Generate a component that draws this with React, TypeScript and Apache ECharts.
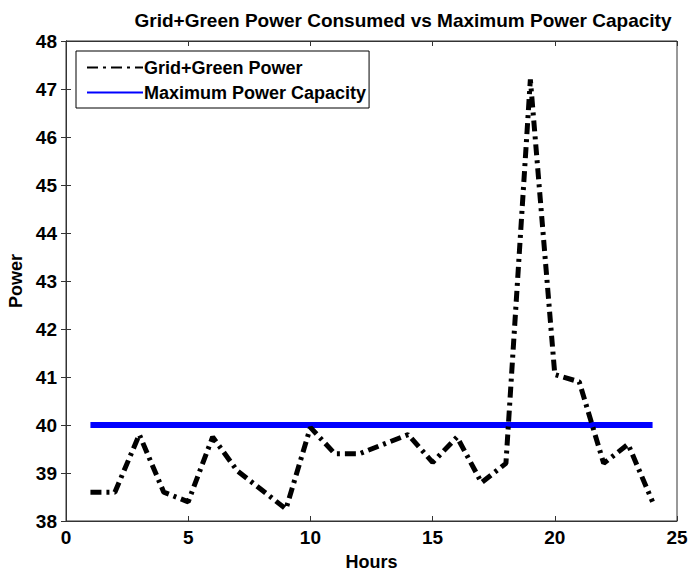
import React, { useEffect, useRef } from "react";
import * as echarts from "echarts";

const hours = [1, 2, 3, 4, 5, 6, 7, 8, 9, 10, 11, 12, 13, 14, 15, 16, 17, 18, 19, 20, 21, 22, 23, 24];
const gridGreenPower = [38.6, 38.6, 39.8, 38.6, 38.4, 39.75, 39.05, 38.65, 38.25, 39.95, 39.4, 39.4, 39.6, 39.8, 39.22, 39.75, 38.8, 39.2, 47.2, 41.05, 40.9, 39.2, 39.6, 38.4];
const maxCapacity = [40, 40, 40, 40, 40, 40, 40, 40, 40, 40, 40, 40, 40, 40, 40, 40, 40, 40, 40, 40, 40, 40, 40, 40];
const titleText = "Grid+Green Power Consumed vs Maximum Power Capacity";
const seriesNames = ["Grid+Green Power", "Maximum Power Capacity"];

const FONT = "'Liberation Sans', Arial, sans-serif";

export default function App() {
  const ref = useRef<HTMLDivElement>(null);
  useEffect(() => {
    if (!ref.current) return;
    const chart = echarts.init(ref.current, undefined, { renderer: "svg" });
    const labelStyle = { color: "#000", fontWeight: "bold" as const, fontSize: 19, fontFamily: FONT };
    const nameStyle = { color: "#000", fontWeight: "bold" as const, fontSize: 18, fontFamily: FONT };
    chart.setOption({
      animation: false,
      backgroundColor: "#fff",
      title: {
        text: titleText,
        left: 398,
        top: 6,
        textAlign: "center",
        textStyle: { color: "#000", fontWeight: "bold", fontSize: 19, fontFamily: FONT },
      },
      legend: {
        orient: "vertical",
        left: 76,
        top: 51,
        padding: [6, 3, 5, 10],
        itemGap: 4,
        itemWidth: 56,
        itemHeight: 10,
        backgroundColor: "#fff",
        borderColor: "#000",
        borderWidth: 1,
        borderRadius: 0,
        itemStyle: { opacity: 0 },
        textStyle: { ...nameStyle, padding: [0, 0, 0, -4], lineHeight: 21 },
        data: seriesNames,
      },
      grid: {
        left: 66,
        right: 19,
        top: 41,
        bottom: 53,
        show: true,
        borderColor: "#333",
        borderWidth: 1,
        containLabel: false,
        outerBoundsMode: "none",
      },
      xAxis: [
        {
          type: "value",
          min: 0,
          max: 25,
          interval: 5,
          name: "Hours",
          nameLocation: "middle",
          nameGap: 32,
          nameTextStyle: nameStyle,
          axisLine: { show: true, lineStyle: { color: "#333" } },
          axisTick: { inside: true, length: 5, lineStyle: { color: "#333" } },
          axisLabel: { ...labelStyle, margin: 7 },
          splitLine: { show: false },
        },
        {
          type: "value",
          position: "top",
          min: 0,
          max: 25,
          interval: 5,
          axisLine: { show: true, lineStyle: { color: "#333" } },
          axisTick: { inside: true, length: 5, lineStyle: { color: "#333" } },
          axisLabel: { show: false },
          splitLine: { show: false },
        },
      ],
      yAxis: [
        {
          type: "value",
          min: 38,
          max: 48,
          interval: 1,
          name: "Power",
          nameLocation: "middle",
          nameGap: 40,
          nameTextStyle: nameStyle,
          axisLine: { show: true, lineStyle: { color: "#333" } },
          axisTick: { inside: true, length: 5, lineStyle: { color: "#333" } },
          axisLabel: { ...labelStyle, margin: 9 },
          splitLine: { show: false },
        },
        {
          type: "value",
          position: "right",
          min: 38,
          max: 48,
          interval: 1,
          axisLine: { show: true, lineStyle: { color: "#333" } },
          axisTick: { inside: true, length: 5, lineStyle: { color: "#333" } },
          axisLabel: { show: false },
          splitLine: { show: false },
        },
      ],
      series: [
        {
          name: seriesNames[0],
          type: "line",
          data: hours.map((h, i) => [h, gridGreenPower[i]]),
          symbol: "none",
          color: "#000",
          lineStyle: { color: "#000", width: 5, type: [11, 5, 3, 5], cap: "butt" },
          z: 3,
        },
        {
          name: seriesNames[1],
          type: "line",
          data: hours.map((h, i) => [h, maxCapacity[i]]),
          symbol: "none",
          color: "#0000ff",
          lineStyle: { color: "#0000ff", width: 6, type: "solid" },
          z: 2,
        },
      ],
    });
    return () => chart.dispose();
  }, []);
  return <div ref={ref} style={{ width: 696, height: 574, position: "absolute", left: 0, top: 0 }} />;
}
